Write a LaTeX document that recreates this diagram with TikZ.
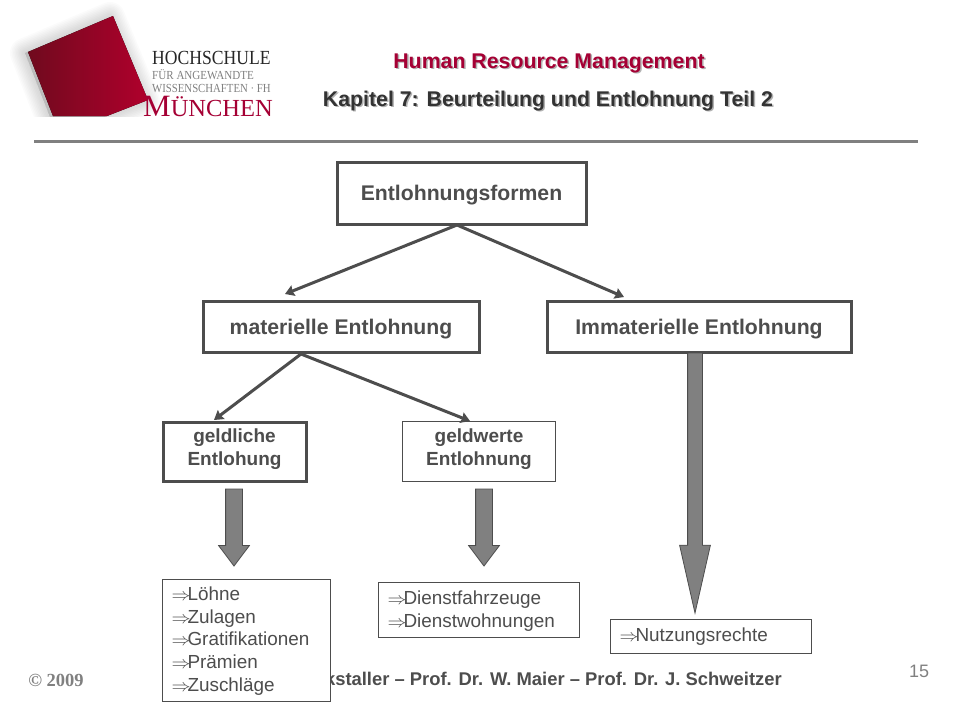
\documentclass[tikz,border=0pt]{standalone}
\usepackage{fontspec}
\setmainfont{Liberation Sans}
\newfontfamily\logofont{Liberation Serif}
\usetikzlibrary{shapes.arrows}
\usetikzlibrary{arrows.meta}
\definecolor{hmred}{HTML}{A50034}
\definecolor{hmdark}{HTML}{4D4D4D}
\definecolor{hmgrey}{HTML}{808080}
\definecolor{logodark}{HTML}{700A1E}
\definecolor{logolight}{HTML}{B0002C}
\newcommand{\fsize}[1]{\fontsize{#1}{#1}\selectfont}
\newcommand{\litem}{\scalebox{1.1}[1]{$\Rightarrow$}\hspace{-3pt}}

\begin{document}
\begin{tikzpicture}[
      x=1pt,y=-1pt,
      thickbox/.style = {draw=hmdark,line width=3pt,fill=white,inner sep=0pt,
      text=hmdark,font=\bfseries\fsize{21.2},align=center,text depth=0pt},
      smallbox/.style = {thickbox,font=\bfseries\fsize{19},text depth=9pt},
      listbox/.style = {draw=hmdark,line width=1pt,fill=white,inner sep=0pt,
      text=hmdark,font=\fsize{18.9},align=left,anchor=west,inner xsep=9pt},
      link/.style = {draw=hmdark,line width=3pt,
      -{Stealth[length=9pt,width=11pt,inset=1pt]}},
      blockarrow/.style = {single arrow,draw=hmdark,fill=hmgrey,line width=0.8pt,
      inner sep=8pt,outer sep=0pt,shape border rotate=270,anchor=tip,
      single arrow head extend=7pt},
      logotext/.style = {inner sep=0pt,anchor=base west,font=\logofont}
]
   \useasboundingbox (0,0) rectangle (960,720);

   % logo
   \begin{scope}
      \clip (0,0) rectangle (300,116);
      \foreach \s in {30,27,...,3}{
         \draw[black,fill=black,opacity=0.014,line width=\s pt,line join=round]
         (110,17) -- (145,101) -- (104,117) -- (50,117) -- (25,53) -- cycle;
      }
      \fill[left color=logodark,right color=logolight]
      (113,16) -- (148,100) -- (107,116) -- (53,116) -- (28,52) -- cycle;
   \end{scope}
   \node[logotext,text=black!85,font=\logofont\fsize{20}] (logoa) at (152,64.5) {\scalebox{0.88}[1]{HOCHSCHULE}};
   \node[logotext,text=hmgrey,font=\logofont\fsize{12.3}] (logob) at (152,79) {\scalebox{0.9}[1]{FÜR ANGEWANDTE}};
   \node[logotext,text=hmgrey,font=\logofont\fsize{12.3}] (logoc) at (152,92.5) {\scalebox{0.875}[1]{WISSENSCHAFTEN · FH}};
   \node[logotext,text=hmred,font=\logofont\fsize{31}] (logod) at (143,116) {M\fsize{24.5}ÜNCHEN};

   % title
   \node[text=black!30,font=\bfseries\fsize{21.3},inner sep=0pt] (titleas) at (550.5,64.5) {Human Resource Management};
   \node[text=hmred,font=\bfseries\fsize{21.3},inner sep=0pt] (titlea) at (549,63) {Human Resource Management};
   \node[text=black!30,font=\bfseries\fsize{21.3},inner sep=0pt] (titlebs) at (549.5,102.5) {Kapitel 7: Beurteilung und Entlohnung Teil 2};
   \node[text=black!80,font=\bfseries\fsize{21.3},inner sep=0pt] (titleb) at (548,101) {Kapitel 7: Beurteilung und Entlohnung Teil 2};
   \fill[hmgrey] (34,140) rectangle (918,143);

   % footer
   \node[text=hmgrey,font=\logofont\bfseries\fsize{18.5},inner sep=0pt] (year) at (56,680) {© 2009};
   \node[text=hmdark,font=\bfseries\fsize{18.4},inner sep=0pt,anchor=east] (names) at (782,679)
   {kstaller – Prof. Dr. W. Maier – Prof. Dr. J. Schweitzer};
   \node[text=hmgrey,font=\fsize{18},inner sep=0pt] (page) at (919,671) {15};

   % main boxes
   \node[thickbox,minimum width=249pt,minimum height=62pt] (forms) at (461.5,193) {Entlohnungsformen};
   \node[thickbox,minimum width=276pt,minimum height=51pt] (mat) at (341,326.5) {materielle Entlohnung};
   \node[thickbox,minimum width=304pt,minimum height=51pt] (immat) at (699,326.5) {Immaterielle Entlohnung};
   \node[smallbox,minimum width=143pt,minimum height=59pt] (money) at (234.5,451.5) {geldliche\\[4pt]Entlohung};
   \node[smallbox,line width=1pt,minimum width=153pt,minimum height=60pt] (value) at (479,451.5) {geldwerte\\[4pt]Entlohnung};

   % connector ends
   \coordinate (formsout) at (457,225);
   \coordinate (matin) at (285,294);
   \coordinate (immatin) at (624,297);
   \coordinate (matout) at (301,354);
   \coordinate (moneyin) at (214,420);
   \coordinate (valuein) at (470,421);
   \draw[link] (formsout) -- (matin);
   \draw[link] (formsout) -- (immatin);
   \draw[link] (matout) -- (moneyin);
   \draw[link] (matout) -- (valuein);

   % block arrows
   \node[blockarrow,minimum height=77pt,single arrow tip angle=74] (moneyarrow) at (234,566) {};
   \node[blockarrow,minimum height=77pt,single arrow tip angle=74] (valuearrow) at (484,566) {};
   \node[blockarrow,inner sep=7pt,minimum height=260pt,single arrow head extend=8pt,single arrow tip angle=25.6] (immatarrow) at (695,613) {};

   % lists
   \node[listbox,text depth=94pt,minimum width=168pt,minimum height=122pt,text width=150pt] (moneylist) at (162,640.5)
   {\litem Löhne\\[3.8pt]\litem Zulagen\\[3.8pt]\litem Gratifikationen\\[3.8pt]\litem Prämien\\[3.8pt]\litem Zuschläge};
   \node[listbox,text depth=24pt,minimum width=201pt,minimum height=55pt,text width=183pt] (valuelist) at (378,609.5)
   {\litem Dienstfahrzeuge\\[3.8pt]\litem Dienstwohnungen};
   \node[listbox,text depth=2pt,minimum width=201pt,minimum height=34pt,text width=183pt] (immatlist) at (610,636)
   {\litem Nutzungsrechte};
\end{tikzpicture}
\end{document}
